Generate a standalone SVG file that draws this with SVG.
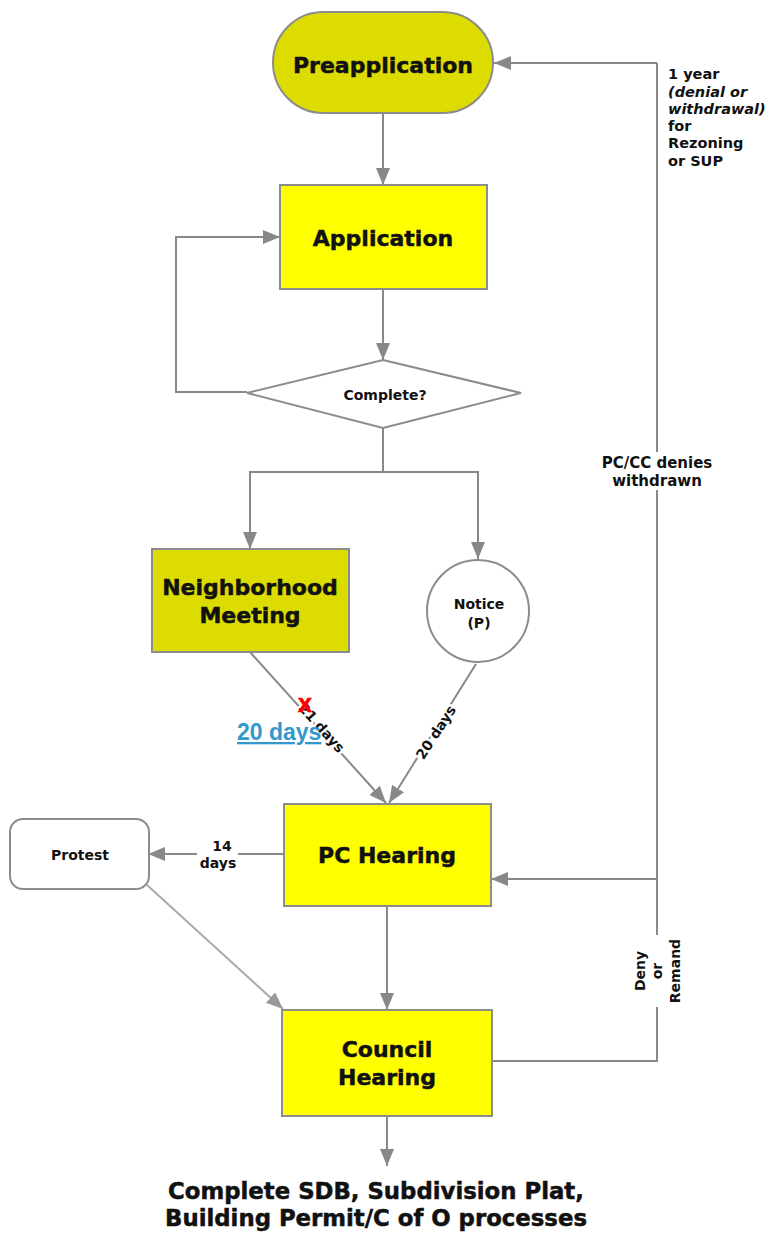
<svg xmlns="http://www.w3.org/2000/svg" width="771" height="1234" viewBox="0 0 771 1234">
  <defs>
    <marker id="arrow" viewBox="0 0 17 14" refX="17" refY="7" markerWidth="17" markerHeight="14" markerUnits="userSpaceOnUse" orient="auto">
      <path d="M0,0 L17,7 L0,14 z" fill="#888888"/>
    </marker>
    <marker id="arrowLight" viewBox="0 0 17 14" refX="17" refY="7" markerWidth="17" markerHeight="14" markerUnits="userSpaceOnUse" orient="auto">
      <path d="M0,0 L17,7 L0,14 z" fill="#999999"/>
    </marker>
    <style>
      .box { stroke: #8c8c8c; stroke-width: 2; }
      .yellow { fill: #ffff00; }
      .olive { fill: #dcdc00; }
      .white { fill: #ffffff; }
      .conn { fill: none; stroke: #888888; stroke-width: 2; }
      .connLight { fill: none; stroke: #aaaaaa; stroke-width: 2; }
      text { font-family: "DejaVu Sans", Verdana, sans-serif; font-weight: bold; fill: #111111; }
      .big { font-size: 22px; text-anchor: middle; stroke: #111111; stroke-width: 0.5px; }
      .outcome { font-size: 22.8px; }
      .small { font-size: 14px; text-anchor: middle; }
      .mid { font-size: 15px; }
      .note { font-size: 14.5px; }
      .halo { paint-order: stroke; stroke: #ffffff; stroke-width: 5px; stroke-linejoin: round; }
    </style>
  </defs>

  <!-- connectors -->
  <g id="connectors">
    <line class="conn" x1="383" y1="113" x2="383" y2="185" marker-end="url(#arrow)"/>
    <line class="conn" x1="383" y1="289" x2="383" y2="360" marker-end="url(#arrow)"/>
    <polyline class="conn" points="247,392 176,392 176,237 280,237" marker-end="url(#arrow)"/>
    <polyline class="conn" points="383,428 383,472 250,472 250,549" marker-end="url(#arrow)"/>
    <polyline class="conn" points="383,472 478,472 478,559" marker-end="url(#arrow)"/>
    <line class="conn" x1="250" y1="652" x2="386" y2="803" marker-end="url(#arrow)"/>
    <line class="conn" x1="476" y1="664" x2="389" y2="803" marker-end="url(#arrow)"/>
    <line class="conn" x1="284" y1="854" x2="238" y2="854"/>
    <line class="conn" x1="197" y1="854" x2="148" y2="854" marker-end="url(#arrow)"/>
    <line class="connLight" x1="147" y1="885" x2="283" y2="1009" marker-end="url(#arrowLight)"/>
    <line class="conn" x1="387" y1="906" x2="387" y2="1010" marker-end="url(#arrow)"/>
    <line class="conn" x1="387" y1="1116" x2="387" y2="1166" marker-end="url(#arrow)"/>
    <!-- return path on the right -->
    <polyline class="conn" points="492,1061 657,1061 657,1007"/>
    <line class="conn" x1="657" y1="935" x2="657" y2="490"/>
    <line class="conn" x1="657" y1="452" x2="657" y2="63"/>
    <line class="conn" x1="657" y1="879" x2="491" y2="879" marker-end="url(#arrow)"/>
    <line class="conn" x1="657" y1="63" x2="494" y2="63" marker-end="url(#arrow)"/>

    <!-- connector labels -->
    <text class="small" x="222" y="851">14</text>
    <text class="small" x="218" y="868">days</text>
    <text class="small halo" transform="translate(318,731) rotate(48)">21 days</text>
    <text class="small halo" transform="translate(440,735) rotate(-57)">20 days</text>
    <text class="small mid" x="657" y="468">PC/CC denies</text>
    <text class="small mid" x="657" y="486">withdrawn</text>
    <g transform="translate(657,971) rotate(-90)">
      <text class="small" x="0" y="-12">Deny</text>
      <text class="small" x="0" y="5">or</text>
      <text class="small" x="0" y="23">Remand</text>
    </g>
    <text class="note" x="668" y="79">1 year</text>
    <text class="note" x="668" y="97" font-style="italic">(denial or</text>
    <text class="note" x="668" y="114" font-style="italic">withdrawal)</text>
    <text class="note" x="668" y="131">for</text>
    <text class="note" x="668" y="148">Rezoning</text>
    <text class="note" x="668" y="166">or SUP</text>

    <!-- correction mark over the meeting interval -->
    <text x="305" y="712" style="font-size:25px;fill:#ff0000;stroke:#ff0000;stroke-width:0.6px;font-family:'Liberation Sans',Arial,sans-serif;text-anchor:middle;">x</text>
    <text x="237" y="740" text-decoration="underline" style="font-size:23px;fill:#3399cc;font-family:'Liberation Sans',Arial,sans-serif;">20 days</text>
  </g>

  <!-- nodes -->
  <g id="preapplication">
    <rect class="box olive" x="273" y="12" width="220" height="101" rx="50.5"/>
    <text class="big" x="383" y="73">Preapplication</text>
  </g>
  <g id="application">
    <rect class="box yellow" x="280" y="185" width="207" height="104"/>
    <text class="big" x="383" y="246">Application</text>
  </g>
  <g id="complete">
    <polygon class="box white" points="383,360 521,393 383,428 247,393"/>
    <text class="small" x="385" y="400">Complete?</text>
  </g>
  <g id="neighborhood-meeting">
    <rect class="box olive" x="152" y="549" width="197" height="103"/>
    <text class="big" x="250" y="595">Neighborhood</text>
    <text class="big" x="250" y="623">Meeting</text>
  </g>
  <g id="notice">
    <circle class="box white" cx="478" cy="611" r="51"/>
    <text class="small" x="479" y="609">Notice</text>
    <text class="small" x="479" y="628">(P)</text>
  </g>
  <g id="protest">
    <rect class="box white" x="10" y="819" width="139" height="70" rx="13"/>
    <text class="small" x="80" y="860">Protest</text>
  </g>
  <g id="pc-hearing">
    <rect class="box yellow" x="284" y="804" width="207" height="102"/>
    <text class="big" x="387" y="863">PC Hearing</text>
  </g>
  <g id="council-hearing">
    <rect class="box yellow" x="282" y="1010" width="210" height="106"/>
    <text class="big" x="387" y="1057">Council</text>
    <text class="big" x="387" y="1085">Hearing</text>
  </g>
  <g id="outcome">
    <text class="big outcome" x="376" y="1199">Complete SDB, Subdivision Plat,</text>
    <text class="big outcome" x="376" y="1226">Building Permit/C of O processes</text>
  </g>
</svg>
